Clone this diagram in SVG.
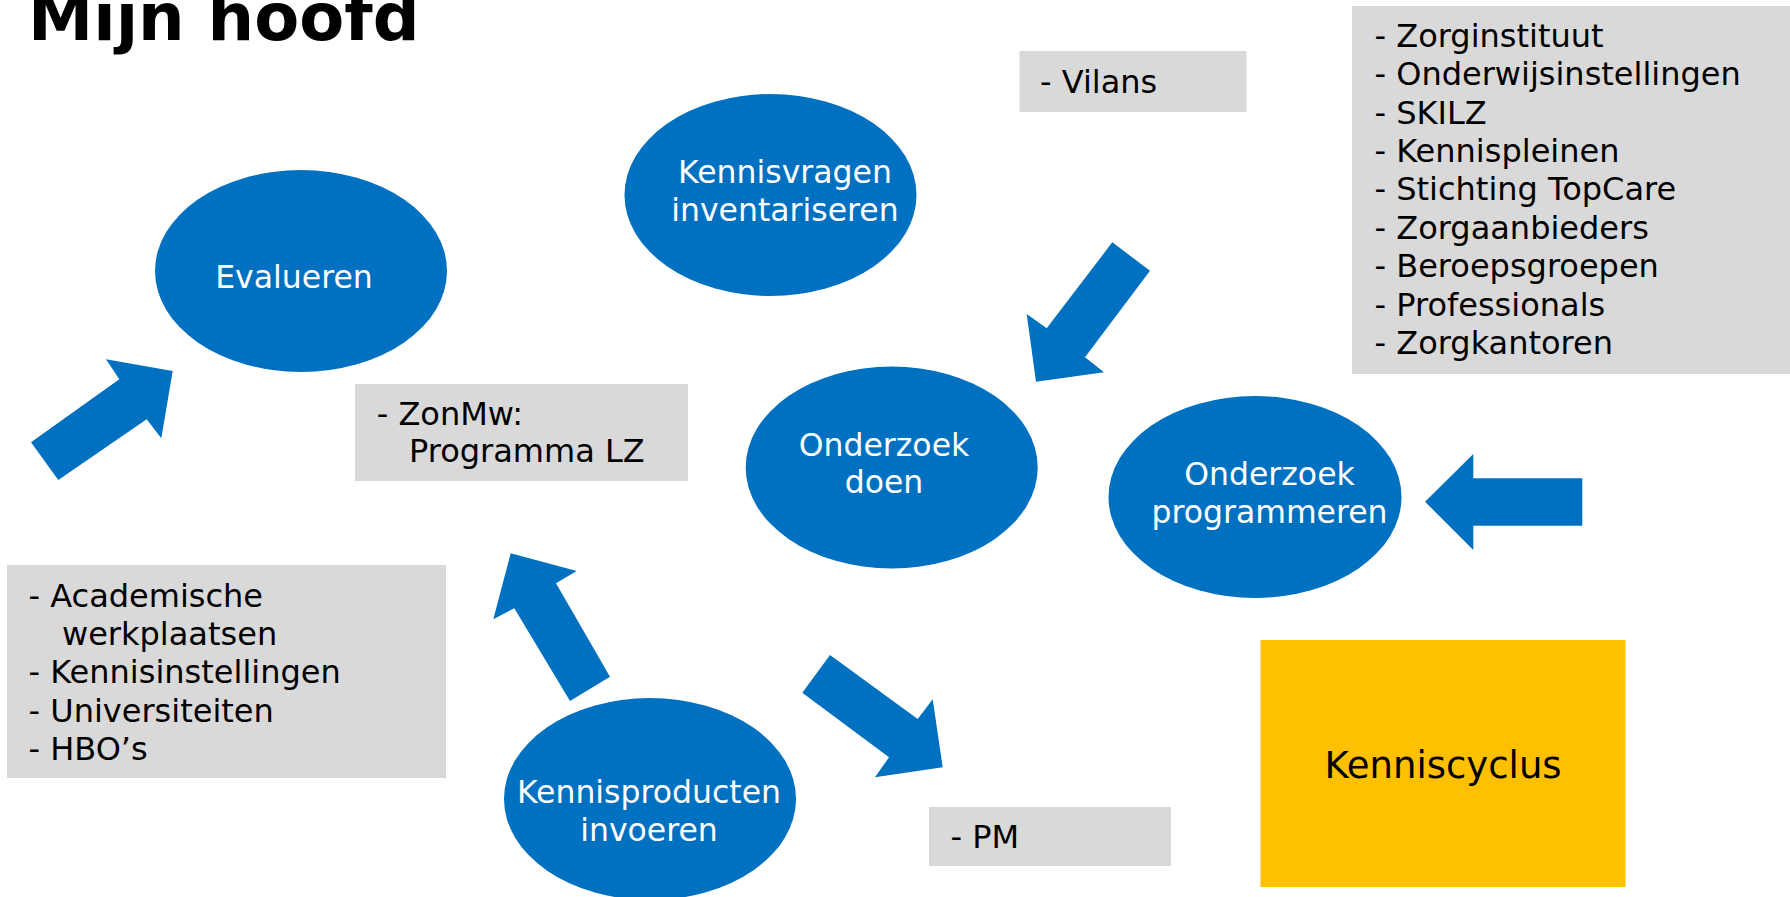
<svg xmlns="http://www.w3.org/2000/svg" width="1790" height="897" viewBox="0 0 1790 897">
<style>
.node ellipse{fill:#0070c0}
.ntext{font-family:"DejaVu Sans","Verdana",sans-serif;font-size:31.5px;fill:#ffffff;text-anchor:middle}
.box{fill:#d9d9d9}
.btext{font-family:"DejaVu Sans","Verdana",sans-serif;font-size:32px;fill:#000000}
.arrow{fill:#0070c0}
</style>
<rect x="0" y="0" width="1790" height="897" fill="#ffffff"/>
<text id="title" x="28" y="40" style="font-family:'DejaVu Sans',Verdana,sans-serif;font-weight:bold;font-size:65.5px;fill:#000">Mijn hoofd</text>

<g id="connectors">
  <polygon class="arrow" points="31,442.3 119.3,379.3 106,359.3 172.7,371 161.3,438.3 146.7,419.3 58.3,480"/>
  <polygon class="arrow" points="1112.3,242.3 1150,270.7 1085,357.3 1104,372.3 1036,381.7 1026.7,314 1046.7,328.3"/>
  <polygon class="arrow" points="1425,501.7 1473.3,454 1473.3,478.3 1582.3,478.3 1582.3,525.7 1473.3,525.7 1473.3,550"/>
  <polygon class="arrow" points="510.7,553.3 576.7,571 556,583.3 610,676.7 570,701 514.3,608.3 493.3,619.3"/>
  <polygon class="arrow" points="830,655 917.7,719 932.7,699.3 942.7,767.3 875,777.3 889,757.3 802.3,692.7"/>
</g>

<g id="evalueren" class="node">
  <ellipse cx="301" cy="271" rx="146" ry="101"/>
  <text class="ntext" x="294" y="288">Evalueren</text>
</g>
<g id="kennisvragen" class="node">
  <ellipse cx="770.5" cy="195" rx="146" ry="101"/>
  <text class="ntext" x="785" y="183">Kennisvragen</text>
  <text class="ntext" x="785" y="221">inventariseren</text>
</g>
<g id="onderzoek-doen" class="node">
  <ellipse cx="891.7" cy="467.5" rx="146" ry="101"/>
  <text class="ntext" x="884" y="455.7">Onderzoek</text>
  <text class="ntext" x="884" y="493.3">doen</text>
</g>
<g id="onderzoek-programmeren" class="node">
  <ellipse cx="1255" cy="497" rx="146.5" ry="101"/>
  <text class="ntext" x="1269.5" y="485">Onderzoek</text>
  <text class="ntext" x="1269.5" y="523">programmeren</text>
</g>
<g id="kennisproducten" class="node">
  <ellipse cx="650" cy="799" rx="146" ry="101"/>
  <text class="ntext" x="649" y="803">Kennisproducten</text>
  <text class="ntext" x="649" y="840.7">invoeren</text>
</g>

<g id="box-vilans">
  <rect class="box" x="1019.5" y="51" width="227" height="61"/>
  <text class="btext" x="1040" y="93">- Vilans</text>
</g>
<g id="box-partners">
  <rect class="box" x="1352" y="6" width="438" height="368"/>
  <text class="btext" x="1374.5" y="46.7">- Zorginstituut</text>
  <text class="btext" x="1374.5" y="85.1">- Onderwijsinstellingen</text>
  <text class="btext" x="1374.5" y="123.5">- SKILZ</text>
  <text class="btext" x="1374.5" y="161.9">- Kennispleinen</text>
  <text class="btext" x="1374.5" y="200.3">- Stichting TopCare</text>
  <text class="btext" x="1374.5" y="238.7">- Zorgaanbieders</text>
  <text class="btext" x="1374.5" y="277.1">- Beroepsgroepen</text>
  <text class="btext" x="1374.5" y="315.5">- Professionals</text>
  <text class="btext" x="1374.5" y="353.9">- Zorgkantoren</text>
</g>
<g id="box-zonmw">
  <rect class="box" x="355" y="384" width="333" height="97"/>
  <text class="btext" x="376.7" y="425">- ZonMw:</text>
  <text class="btext" x="409" y="462.3">Programma LZ</text>
</g>
<g id="box-academisch">
  <rect class="box" x="7" y="565" width="439" height="213"/>
  <text class="btext" x="28.5" y="606.7">- Academische</text>
  <text class="btext" x="62" y="645">werkplaatsen</text>
  <text class="btext" x="28.5" y="683.3">- Kennisinstellingen</text>
  <text class="btext" x="28.5" y="721.7">- Universiteiten</text>
  <text class="btext" x="28.5" y="760">- HBO’s</text>
</g>
<g id="box-pm">
  <rect class="box" x="929" y="807" width="242" height="59"/>
  <text class="btext" x="950.5" y="848.3">- PM</text>
</g>
<g id="kenniscyclus">
  <rect x="1260.5" y="640" width="365" height="247" fill="#ffc000"/>
  <text x="1443" y="778.3" style="font-family:'DejaVu Sans',Verdana,sans-serif;font-size:37px;fill:#000;text-anchor:middle">Kenniscyclus</text>
</g>
</svg>
